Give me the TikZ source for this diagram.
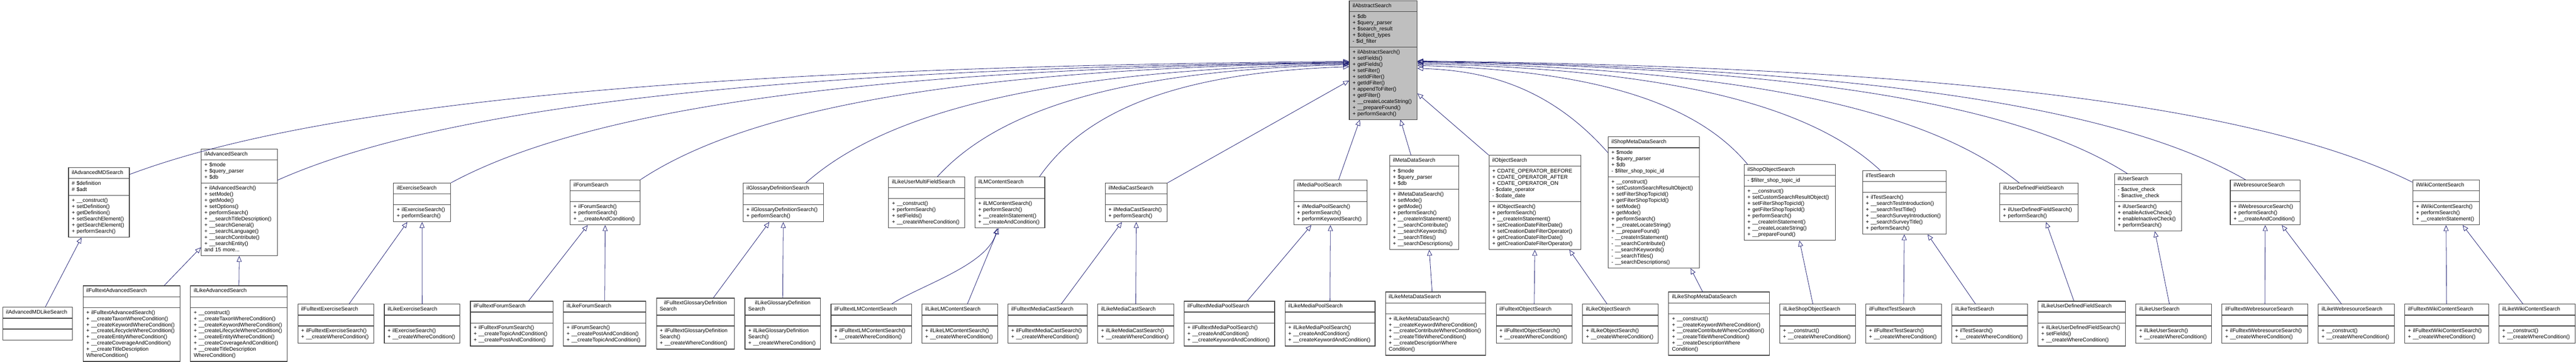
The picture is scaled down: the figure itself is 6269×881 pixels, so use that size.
\documentclass[tikz,border=0pt]{standalone}
\usepackage{fontspec}
\setmainfont{Liberation Sans}
\usepackage{tikz}
\usetikzlibrary{shapes.multipart,positioning,arrows.meta}
\definecolor{edgeblue}{HTML}{191970}
\definecolor{boxline}{HTML}{404040}

\begin{document}
\begin{tikzpicture}[x=1pt, y=-1pt, node distance=24pt,
    classbox/.style={draw=boxline, line width=1.4pt, fill=white, rectangle split, rectangle split parts=3,
        text width=#1pt-17pt, inner xsep=8pt, inner ysep=5pt, align=left,
        font={\fontsize{13}{15}\selectfont\hyphenpenalty=10000\relax},
        execute at begin node=\strut, execute at end node=\strut},
    inherit/.style={draw=edgeblue, line width=1pt, -{Triangle[open, length=14pt, width=12pt]}}]

    \useasboundingbox (0,0) rectangle (6269,881);

    \node [classbox=166, fill=gray!50, anchor=west] (root) at (3283,146.5) {\centering ilAbstractSearch%
        \nodepart{two}+ \$db\\+ \$query\_parser\\+ \$search\_result\\+ \$object\_types\\- \$id\_filter%
        \nodepart{three}+ ilAbstractSearch()\\+ setFields()\\+ getFields()\\+ setFilter()\\+ setIdFilter()\\+ getIdFilter()\\+ appendToFilter()\\+ getFilter()\\+ \_\_createLocateString()\\+ \_\_prepareFound()\\+ performSearch()};

    \node [classbox=149, anchor=west] (admd) at (166,493) {\centering ilAdvancedMDSearch%
        \nodepart{two}\# \$definition\\\# \$adt%
        \nodepart{three}+ \_\_construct()\\+ setDefinition()\\+ getDefinition()\\+ setSearchElement()\\+ getSearchElement()\\+ performSearch()};
    \node [classbox=186, anchor=west] (adv) at (489,493) {\centering ilAdvancedSearch%
        \nodepart{two}+ \$mode\\+ \$query\_parser\\+ \$db%
        \nodepart{three}+ ilAdvancedSearch()\\+ setMode()\\+ getMode()\\+ setOptions()\\+ performSearch()\\+ \_\_searchTitleDescription()\\+ \_\_searchGeneral()\\+ \_\_searchLanguage()\\+ \_\_searchContribute()\\+ \_\_searchEntity()\\and 15 more...};
    \node [classbox=140, anchor=west] (exe) at (957,493) {\centering ilExerciseSearch%
        \nodepart{two}\strut%
        \nodepart{three}+ ilExerciseSearch()\\+ performSearch()};
    \node [classbox=171, anchor=west] (forum) at (1387,493) {\centering ilForumSearch%
        \nodepart{two}\strut%
        \nodepart{three}+ ilForumSearch()\\+ performSearch()\\+ \_\_createAndCondition()};
    \node [classbox=196, anchor=west] (gloss) at (1808,493) {\centering ilGlossaryDefinitionSearch%
        \nodepart{two}\strut%
        \nodepart{three}+ ilGlossaryDefinitionSearch()\\+ performSearch()};
    \node [classbox=186, anchor=west] (lumf) at (2162,493) {\centering ilLikeUserMultiFieldSearch%
        \nodepart{two}\strut%
        \nodepart{three}+ \_\_construct()\\+ performSearch()\\+ setFields()\\+ \_\_createWhereCondition()};
    \node [classbox=171, anchor=west] (lmc) at (2372,493) {\centering ilLMContentSearch%
        \nodepart{two}\strut%
        \nodepart{three}+ ilLMContentSearch()\\+ performSearch()\\+ \_\_createInStatement()\\+ \_\_createAndCondition()};
    \node [classbox=152, anchor=west] (mcast) at (2689,493) {\centering ilMediaCastSearch%
        \nodepart{two}\strut%
        \nodepart{three}+ ilMediaCastSearch()\\+ performSearch()};
    \node [classbox=179, anchor=west] (mpool) at (3148,493) {\centering ilMediaPoolSearch%
        \nodepart{two}\strut%
        \nodepart{three}+ ilMediaPoolSearch()\\+ performSearch()\\+ performKeywordSearch()};
    \node [classbox=169, anchor=west] (meta) at (3381,493) {\centering ilMetaDataSearch%
        \nodepart{two}+ \$mode\\+ \$query\_parser\\+ \$db%
        \nodepart{three}+ ilMetaDataSearch()\\+ setMode()\\+ getMode()\\+ performSearch()\\+ \_\_createInStatement()\\+ \_\_searchContribute()\\+ \_\_searchKeywords()\\+ \_\_searchTitles()\\+ \_\_searchDescriptions()};
    \node [classbox=224, anchor=west] (obj) at (3623,493) {\centering ilObjectSearch%
        \nodepart{two}+ CDATE\_OPERATOR\_BEFORE\\+ CDATE\_OPERATOR\_AFTER\\+ CDATE\_OPERATOR\_ON\\- \$cdate\_operator\\- \$cdate\_date%
        \nodepart{three}+ ilObjectSearch()\\+ performSearch()\\+ \_\_createInStatement()\\+ setCreationDateFilterDate()\\+ setCreationDateFilterOperator()\\+ getCreationDateFilterDate()\\+ getCreationDateFilterOperator()};
    \node [classbox=223, anchor=west] (shopmeta) at (3913,493) {\centering ilShopMetaDataSearch%
        \nodepart{two}+ \$mode\\+ \$query\_parser\\+ \$db\\- \$filter\_shop\_topic\_id%
        \nodepart{three}+ \_\_construct()\\+ setCustomSearchResultObject()\\+ setFilterShopTopicId()\\+ getFilterShopTopicId()\\+ setMode()\\+ getMode()\\+ performSearch()\\+ \_\_createLocateString()\\+ \_\_prepareFound()\\- \_\_createInStatement()\\- \_\_searchContribute()\\- \_\_searchKeywords()\\- \_\_searchTitles()\\- \_\_searchDescriptions()};
    \node [classbox=223, anchor=west] (shopobj) at (4244,493) {\centering ilShopObjectSearch%
        \nodepart{two}- \$filter\_shop\_topic\_id%
        \nodepart{three}+ \_\_construct()\\+ setCustomSearchResultObject()\\+ setFilterShopTopicId()\\+ getFilterShopTopicId()\\+ performSearch()\\+ \_\_createInStatement()\\+ \_\_createLocateString()\\+ \_\_prepareFound()};
    \node [classbox=204, anchor=west] (test) at (4532,493) {\centering ilTestSearch%
        \nodepart{two}\strut%
        \nodepart{three}+ ilTestSearch()\\+ \_\_searchTestIntroduction()\\+ \_\_searchTestTitle()\\+ \_\_searchSurveyIntroduction()\\+ \_\_searchSurveyTitle()\\+ performSearch()};
    \node [classbox=191, anchor=west] (udf) at (4866,493) {\centering ilUserDefinedFieldSearch%
        \nodepart{two}\strut%
        \nodepart{three}+ ilUserDefinedFieldSearch()\\+ performSearch()};
    \node [classbox=164, anchor=west] (user) at (5145,493) {\centering ilUserSearch%
        \nodepart{two}- \$active\_check\\- \$inactive\_check%
        \nodepart{three}+ ilUserSearch()\\+ enableActiveCheck()\\+ enableInactiveCheck()\\+ performSearch()};
    \node [classbox=171, anchor=west] (web) at (5427,493) {\centering ilWebresourceSearch%
        \nodepart{two}\strut%
        \nodepart{three}+ ilWebresourceSearch()\\+ performSearch()\\+ \_\_createAndCondition()};
    \node [classbox=163, anchor=west] (wiki) at (5871,493) {\centering ilWikiContentSearch%
        \nodepart{two}\strut%
        \nodepart{three}+ ilWikiContentSearch()\\+ performSearch()\\+ \_\_createInStatement()};

    \node [classbox=171, anchor=west] (admdlike) at (6,788) {\centering ilAdvancedMDLikeSearch%
        \nodepart{two}\strut%
        \nodepart{three}\strut};
    \node [classbox=237, right=of admdlike] (ftadv) {\centering ilFulltextAdvancedSearch%
        \nodepart{two}\strut%
        \nodepart{three}+ ilFulltextAdvancedSearch()\\+ \_\_createTaxonWhereCondition()\\+ \_\_createKeywordWhereCondition()\\+ \_\_createLifecycleWhereCondition()\\+ \_\_createEntityWhereCondition()\\+ \_\_createCoverageAndCondition()\\+ \_\_createTitleDescription\\WhereCondition()};
    \node [classbox=237, right=of ftadv] (likeadv) {\centering ilLikeAdvancedSearch%
        \nodepart{two}\strut%
        \nodepart{three}+ \_\_construct()\\+ \_\_createTaxonWhereCondition()\\+ \_\_createKeywordWhereCondition()\\+ \_\_createLifecycleWhereCondition()\\+ \_\_createEntityWhereCondition()\\+ \_\_createCoverageAndCondition()\\+ \_\_createTitleDescription\\WhereCondition()};
    \node [classbox=186, right=of likeadv] (ftexe) {\centering ilFulltextExerciseSearch%
        \nodepart{two}\strut%
        \nodepart{three}+ ilFulltextExerciseSearch()\\+ \_\_createWhereCondition()};
    \node [classbox=185, right=of ftexe] (likeexe) {\centering ilLikeExerciseSearch%
        \nodepart{two}\strut%
        \nodepart{three}+ ilExerciseSearch()\\+ \_\_createWhereCondition()};
    \node [classbox=202, right=of likeexe] (ftforum) {\centering ilFulltextForumSearch%
        \nodepart{two}\strut%
        \nodepart{three}+ ilFulltextForumSearch()\\+ \_\_createTopicAndCondition()\\+ \_\_createPostAndCondition()};
    \node [classbox=202, right=of ftforum] (likeforum) {\centering ilLikeForumSearch%
        \nodepart{two}\strut%
        \nodepart{three}+ ilForumSearch()\\+ \_\_createPostAndCondition()\\+ \_\_createTopicAndCondition()};
    \node [classbox=191, right=of likeforum] (ftgloss) {\centering ilFulltextGlossaryDefinition\\Search%
        \nodepart{two}\strut%
        \nodepart{three}+ ilFulltextGlossaryDefinition\\Search()\\+ \_\_createWhereCondition()};
    \node [classbox=185, right=of ftgloss] (likegloss) {\centering ilLikeGlossaryDefinition\\Search%
        \nodepart{two}\strut%
        \nodepart{three}+ ilLikeGlossaryDefinition\\Search()\\+ \_\_createWhereCondition()};
    \node [classbox=197, right=of likegloss] (ftlmc) {\centering ilFulltextLMContentSearch%
        \nodepart{two}\strut%
        \nodepart{three}+ ilFulltextLMContentSearch()\\+ \_\_createWhereCondition()};
    \node [classbox=185, right=of ftlmc] (likelmc) {\centering ilLikeLMContentSearch%
        \nodepart{two}\strut%
        \nodepart{three}+ ilLikeLMContentSearch()\\+ \_\_createWhereCondition()};
    \node [classbox=194, right=of likelmc] (ftmcast) {\centering ilFulltextMediaCastSearch%
        \nodepart{two}\strut%
        \nodepart{three}+ ilFulltextMediaCastSearch()\\+ \_\_createWhereCondition()};
    \node [classbox=186, right=of ftmcast] (likemcast) {\centering ilLikeMediaCastSearch%
        \nodepart{two}\strut%
        \nodepart{three}+ ilLikeMediaCastSearch()\\+ \_\_createWhereCondition()};
    \node [classbox=221, right=of likemcast] (ftmpool) {\centering ilFulltextMediaPoolSearch%
        \nodepart{two}\strut%
        \nodepart{three}+ ilFulltextMediaPoolSearch()\\+ \_\_createAndCondition()\\+ \_\_createKeywordAndCondition()};
    \node [classbox=220, right=of ftmpool] (likempool) {\centering ilLikeMediaPoolSearch%
        \nodepart{two}\strut%
        \nodepart{three}+ ilLikeMediaPoolSearch()\\+ \_\_createAndCondition()\\+ \_\_createKeywordAndCondition()};
    \node [classbox=245, right=of likempool] (likemeta) {\centering ilLikeMetaDataSearch%
        \nodepart{two}\strut%
        \nodepart{three}+ ilLikeMetaDataSearch()\\+ \_\_createKeywordWhereCondition()\\+ \_\_createContributeWhereCondition()\\+ \_\_createTitleWhereCondition()\\+ \_\_createDescriptionWhere\\Condition()};
    \node [classbox=186, right=of likemeta] (ftobj) {\centering ilFulltextObjectSearch%
        \nodepart{two}\strut%
        \nodepart{three}+ ilFulltextObjectSearch()\\+ \_\_createWhereCondition()};
    \node [classbox=185, right=of ftobj] (likeobj) {\centering ilLikeObjectSearch%
        \nodepart{two}\strut%
        \nodepart{three}+ ilLikeObjectSearch()\\+ \_\_createWhereCondition()};
    \node [classbox=246, right=of likeobj] (likeshopmeta) {\centering ilLikeShopMetaDataSearch%
        \nodepart{two}\strut%
        \nodepart{three}+ \_\_construct()\\+ \_\_createKeywordWhereCondition()\\+ \_\_createContributeWhereCondition()\\+ \_\_createTitleWhereCondition()\\+ \_\_createDescriptionWhere\\Condition()};
    \node [classbox=185, right=of likeshopmeta] (likeshopobj) {\centering ilLikeShopObjectSearch%
        \nodepart{two}\strut%
        \nodepart{three}+ \_\_construct()\\+ \_\_createWhereCondition()};
    \node [classbox=185, right=of likeshopobj] (fttest) {\centering ilFulltextTestSearch%
        \nodepart{two}\strut%
        \nodepart{three}+ ilFulltextTestSearch()\\+ \_\_createWhereCondition()};
    \node [classbox=185, right=of fttest] (liketest) {\centering ilLikeTestSearch%
        \nodepart{two}\strut%
        \nodepart{three}+ ilTestSearch()\\+ \_\_createWhereCondition()};
    \node [classbox=214, right=of liketest] (likeudf) {\centering ilLikeUserDefinedFieldSearch%
        \nodepart{two}\strut%
        \nodepart{three}+ ilLikeUserDefinedFieldSearch()\\+ setFields()\\+ \_\_createWhereCondition()};
    \node [classbox=185, right=of likeudf] (likeuser) {\centering ilLikeUserSearch%
        \nodepart{two}\strut%
        \nodepart{three}+ ilLikeUserSearch()\\+ \_\_createWhereCondition()};
    \node [classbox=210, right=of likeuser] (ftweb) {\centering ilFulltextWebresourceSearch%
        \nodepart{two}\strut%
        \nodepart{three}+ ilFulltextWebresourceSearch()\\+ \_\_createWhereCondition()};
    \node [classbox=186, right=of ftweb] (likeweb) {\centering ilLikeWebresourceSearch%
        \nodepart{two}\strut%
        \nodepart{three}+ \_\_construct()\\+ \_\_createWhereCondition()};
    \node [classbox=205, right=of likeweb] (ftwiki) {\centering ilFulltextWikiContentSearch%
        \nodepart{two}\strut%
        \nodepart{three}+ ilFulltextWikiContentSearch()\\+ \_\_createWhereCondition()};
    \node [classbox=186, right=of ftwiki] (likewiki) {\centering ilLikeWikiContentSearch%
        \nodepart{two}\strut%
        \nodepart{three}+ \_\_construct()\\+ \_\_createWhereCondition()};

    \draw [inherit] ([yshift=-17pt]admd.north east) .. controls +(445,-167) and +(-1632,14) .. ([yshift=-3pt]root.west);
    \draw [inherit] ([yshift=-76pt]adv.north east) .. controls +(391,-174) and +(-1434,15) .. ([yshift=-5pt]root.west);
    \draw [inherit] (exe.north east) .. controls +(328,-177) and +(-1202,15) .. ([yshift=-6pt]root.west);
    \draw [inherit] (forum.north east) .. controls +(259,-172) and +(-949,14) .. ([yshift=-7pt]root.west);
    \draw [inherit] ([xshift=55pt]gloss.north) .. controls +(198,-176) and +(-727,15) .. ([yshift=-9pt]root.west);
    \draw [inherit] ([xshift=26pt]lumf.north) .. controls +(150,-165) and +(-551,14) .. ([yshift=-11pt]root.west);
    \draw [inherit] ([xshift=72pt]lmc.north) .. controls +(113,-162) and +(-415,14) .. ([yshift=-16pt]root.west);
    \draw [inherit] (mcast.north east) -- ([yshift=-50pt]root.west);
    \draw [inherit] ([xshift=20pt]mpool.north) -- ([xshift=-57pt]root.south);
    \draw [inherit] ([xshift=-32pt]meta.north) -- ([xshift=42pt]root.south);
    \draw [inherit] (obj.north west) -- ([yshift=-81pt]root.east);
    \draw [inherit] ([yshift=-39pt]shopmeta.north west) .. controls +(-150,-170) and +(150,5) .. ([yshift=-20pt]root.east);
    \draw [inherit] ([xshift=9pt]shopobj.north west) .. controls +(-121,-146) and +(442,12) .. ([yshift=-13pt]root.east);
    \draw [inherit] ([xshift=-58pt]test.north) .. controls +(-169,-158) and +(620,13) .. ([yshift=-9pt]root.east);
    \draw [inherit] ([xshift=-48pt]udf.north) .. controls +(-220,-177) and +(805,15) .. ([yshift=-6pt]root.east);
    \draw [inherit] ([xshift=-50pt]user.north) .. controls +(-259,-165) and +(950,14) .. ([yshift=-4pt]root.east);
    \draw [inherit] ([xshift=-48pt]web.north) .. controls +(-302,-174) and +(1108,15) .. ([yshift=-3pt]root.east);
    \draw [inherit] ([yshift=-6pt]wiki.north west) .. controls +(-363,-179) and +(1332,15) .. ([yshift=-2pt]root.east);

    \draw [inherit] ([xshift=18.5pt]admdlike.north) -- ([xshift=-42.5pt]admd.south);
    \draw [inherit] ([xshift=79.5pt]ftadv.north) -- ([yshift=21pt]adv.south west);
    \draw [inherit] (likeadv.north) -- (adv.south);
    \draw [inherit] ([xshift=32pt]ftexe.north) -- ([xshift=-36pt]exe.south);
    \draw [inherit] (likeexe.north) -- (exe.south);
    \draw [inherit] ([xshift=41pt]ftforum.north) -- ([xshift=-42.5pt]forum.south);
    \draw [inherit] (likeforum.north) -- (forum.south);
    \draw [inherit] ([xshift=43.5pt]ftgloss.north) -- ([xshift=-34pt]gloss.south);
    \draw [inherit] (likegloss.north) -- (gloss.south);
    \draw [inherit] ([xshift=49.5pt]ftlmc.north) .. controls +(70,-45) and +(-25,90) .. ([xshift=-30.5pt]lmc.south);
    \draw [inherit] ([xshift=18.5pt]likelmc.north) -- ([xshift=-27.5pt]lmc.south);
    \draw [inherit] ([xshift=33pt]ftmcast.north) -- ([xshift=-35pt]mcast.south);
    \draw [inherit] (likemcast.north) -- (mcast.south);
    \draw [inherit] ([xshift=43.5pt]ftmpool.north) -- ([xshift=-46.5pt]mpool.south);
    \draw [inherit] (likempool.north) -- (mpool.south);
    \draw [inherit] ([xshift=-8.5pt]likemeta.north) -- ([xshift=12.5pt]meta.south);
    \draw [inherit] (ftobj.north) -- (obj.south);
    \draw [inherit] ([xshift=-32.5pt]likeobj.north) -- ([xshift=84pt]obj.south);
    \draw [inherit] ([xshift=-40pt]likeshopmeta.north) -- ([xshift=89.5pt]shopmeta.south);
    \draw [inherit] ([xshift=-11.5pt]likeshopobj.north) -- ([xshift=23.5pt]shopobj.south);
    \draw [inherit] (fttest.north) -- (test.south);
    \draw [inherit] ([xshift=-34.5pt]liketest.north) -- ([xshift=57pt]test.south);
    \draw [inherit] ([xshift=-19pt]likeudf.north) -- ([xshift=17.5pt]udf.south);
    \draw [inherit] ([xshift=-10.5pt]likeuser.north) -- ([xshift=17pt]user.south);
    \draw [inherit] (ftweb.north) -- (web.south);
    \draw [inherit] ([xshift=-36pt]likeweb.north) -- ([xshift=40.5pt]web.south);
    \draw [inherit] (ftwiki.north) -- (wiki.south);
    \draw [inherit] ([xshift=-34pt]likewiki.north) -- ([xshift=40.5pt]wiki.south);

\end{tikzpicture}
\end{document}
